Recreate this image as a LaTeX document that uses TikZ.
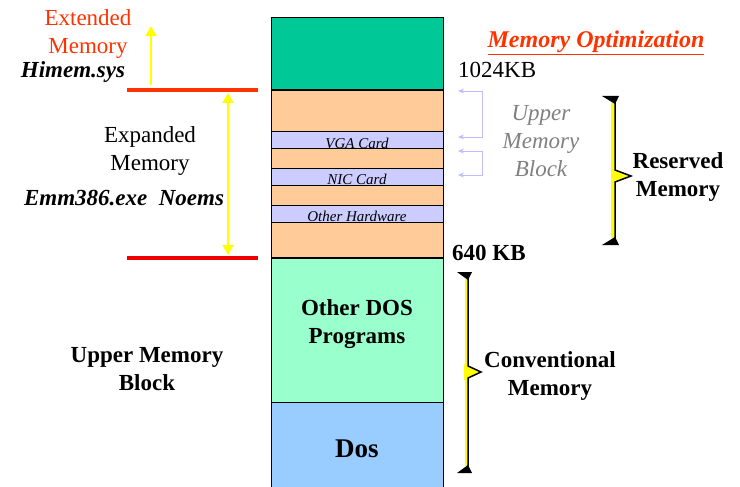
\documentclass[tikz,border=0pt]{standalone}
\usepackage{fontspec}
\setmainfont{Liberation Serif}
\usetikzlibrary{arrows.meta}

\definecolor{extgreen}{RGB}{0,200,150}
\definecolor{umborange}{RGB}{255,204,153}
\definecolor{cardblue}{RGB}{204,204,255}
\definecolor{progmint}{RGB}{153,255,204}
\definecolor{dosblue}{RGB}{153,204,255}
\definecolor{hmared}{RGB}{255,51,0}
\definecolor{emsred}{RGB}{240,0,0}
\definecolor{umbarrowc}{RGB}{190,190,255}
\definecolor{umbgray}{RGB}{128,128,128}
\definecolor{braceyellow}{RGB}{255,255,0}

\tikzset{
  band/.style={draw, line width=1pt, minimum width=172pt, minimum height=#1, inner sep=0pt, outer sep=0pt, anchor=north},
  cardtxt/.style={font=\fontsize{15}{16}\selectfont\itshape, inner sep=0pt, anchor=base},
  txt/.style={font=\fontsize{23}{28}\selectfont, align=center, inner sep=0pt},
  btxt/.style={font=\fontsize{23}{28}\selectfont\bfseries, align=center, inner sep=0pt},
  bitxt/.style={font=\fontsize{23}{28}\selectfont\bfseries\itshape, align=center, inner sep=0pt},
  redline/.style={line width=4.5pt},
  yarrow/.style={braceyellow, line width=2pt, -{Triangle[width=11pt,length=10pt]}},
  umbarrow/.style={umbarrowc, line width=0.8pt, {Stealth[width=5pt,length=6pt]}-{Stealth[width=5pt,length=6pt]}}
}

\begin{document}
\begin{tikzpicture}[x=1pt,y=-1pt]
    \useasboundingbox (0,0) rectangle (740,487);

    % memory map column
    \node[band=72pt, fill=extgreen] (ext) at (357,18) {};
    \node[band=42pt, fill=umborange] (umb1) at (ext.south) {};
    \node[band=17pt, fill=cardblue] (vga) at (umb1.south) {};
    \node[band=19pt, fill=umborange] (umb2) at (vga.south) {};
    \node[band=17pt, fill=cardblue] (nic) at (umb2.south) {};
    \node[band=20pt, fill=umborange] (umb3) at (nic.south) {};
    \node[band=17pt, fill=cardblue] (oth) at (umb3.south) {};
    \node[band=36pt, fill=umborange] (umb4) at (oth.south) {};
    \node[band=144pt, fill=progmint] (progs) at (umb4.south) {};
    \node[band=87pt, fill=dosblue] (dos) at (progs.south) {};
    \draw[line width=2.5pt] (ext.south west) -- (ext.south east);
    \draw[line width=2.5pt] (umb4.south west) -- (umb4.south east);

    \node[cardtxt] (vgatxt) at ([yshift=1pt]vga.south) {VGA Card};
    \node[cardtxt] (nictxt) at ([yshift=1pt]nic.south) {NIC Card};
    \node[cardtxt] (othtxt) at ([yshift=1pt]oth.south) {Other Hardware};
    \node[btxt] (progstxt) at ([yshift=6pt]progs.center) {Other DOS\\Programs};
    \node[btxt, font=\fontsize{27}{30}\selectfont\bfseries] (dostxt) at ([yshift=-3pt]dos.center) {Dos};

    % left side
    \coordinate (hma w) at (127,90);
    \coordinate (hma e) at (258,90);
    \coordinate (cm w) at (127,258);
    \coordinate (cm e) at (258,258);
    \draw[redline, hmared] (hma w) -- (hma e);
    \draw[redline, emsred] (cm w) -- (cm e);

    \coordinate (xms base) at (151,85);
    \coordinate (xms tip) at (151,26);
    \draw[yarrow] (xms base) -- (xms tip);
    \coordinate (ems top) at (228,93);
    \coordinate (ems bot) at (228,255);
    \draw[yarrow, {Triangle[width=11pt,length=10pt]}-{Triangle[width=11pt,length=10pt]}] (ems top) -- (ems bot);

    \node[txt, text=hmared] (exttxt) at (88,34) {Extended\\Memory};
    \node[bitxt] (himem) at (73,72) {Himem.sys};
    \node[txt] (emstxt) at (150,151) {Expanded\\Memory};
    \node[bitxt] (emm) at (124,198) {Emm386.exe\ \ Noems};
    \node[btxt] (umbtxt) at (147,369) {Upper Memory\\Block};

    % right side
    \node[bitxt, font=\fontsize{24}{28}\selectfont\bfseries\itshape, text=hmared] (opt) at (596,43) {\underline{Memory Optimization}};
    \node[txt, anchor=west] (kb1024) at (458,70) {1024KB};
    \node[btxt, anchor=west] (kb640) at (452,253) {640 KB};

    \coordinate (u1 top) at (458,91);
    \coordinate (u1 bot) at (458,137);
    \coordinate (u2 top) at (458,151);
    \coordinate (u2 bot) at (458,175);
    \draw[umbarrow] (u1 top) -- (482,91) -- (482,137) -- (u1 bot);
    \draw[umbarrow] (u2 top) -- (482,151) -- (482,175) -- (u2 bot);
    \node[txt, font=\fontsize{23}{28}\selectfont\itshape, text=umbgray] (umbgray) at (541,141) {Upper\\Memory\\Block};

    % reserved memory brace
    \fill[braceyellow] (611,103) rectangle (615,238);
    \fill[braceyellow] (611,170) -- (631,176) -- (611,182) -- cycle;
    \draw[line width=1.5pt] (615,101) -- (615,170) -- (631,176) -- (615,182) -- (615,240);
    \fill (602,96) -- (619,96) -- (615,104) -- cycle;
    \fill (602,245) -- (619,245) -- (615,237) -- cycle;
    \node[btxt] (resv) at (678,177) {Reserved\\Memory};

    % conventional memory brace
    \fill[braceyellow] (465,279) rectangle (468,466);
    \fill[braceyellow] (464,364) -- (481,372) -- (464,380) -- cycle;
    \draw[line width=1.5pt] (468,276) -- (468,366) -- (481,372) -- (468,378) -- (468,469);
    \fill (457,272) -- (472,272) -- (468,280) -- cycle;
    \fill (457,473) -- (472,473) -- (468,465) -- cycle;
    \node[btxt] (conv) at (550,376) {Conventional\\Memory};
\end{tikzpicture}
\end{document}
